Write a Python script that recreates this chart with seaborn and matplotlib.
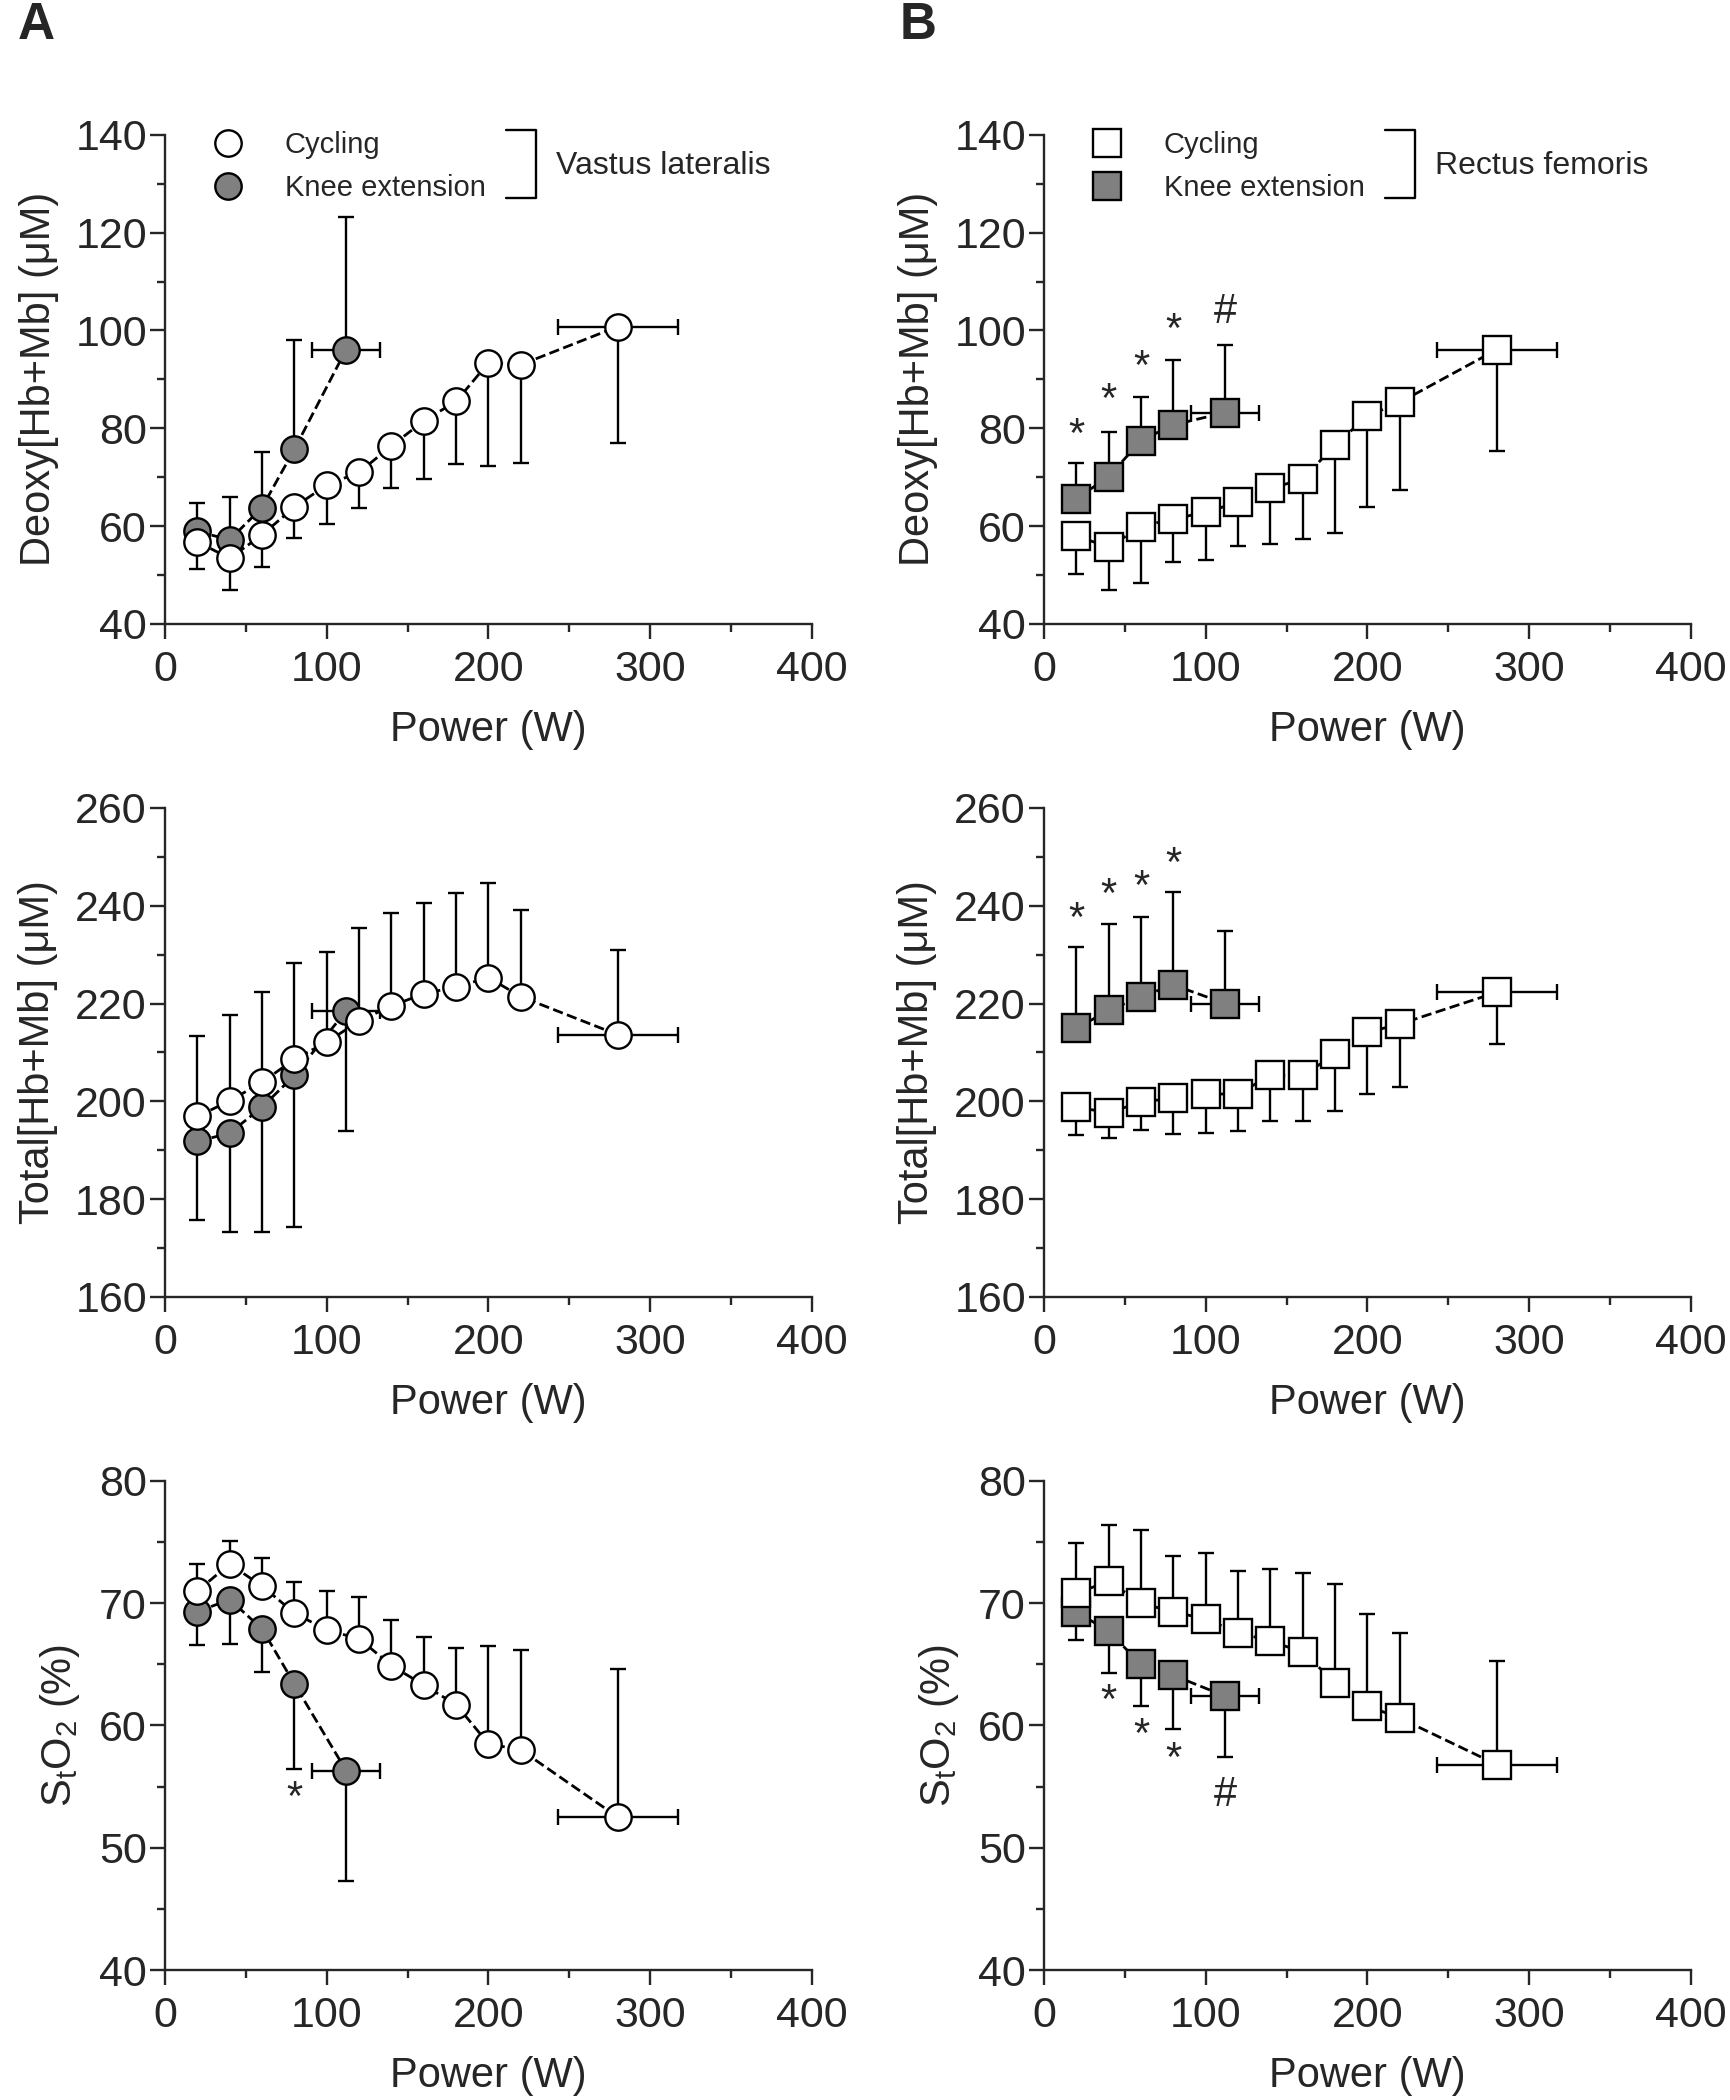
import numpy as np
import matplotlib
matplotlib.use("Agg")
import matplotlib.pyplot as plt
from matplotlib.lines import Line2D
from matplotlib.ticker import MultipleLocator
import seaborn as sns

sns.set_style("ticks")
plt.rcParams["font.family"] = ["Liberation Sans", "DejaVu Sans"]
plt.rcParams["mathtext.default"] = "regular"

GREY = "#808080"

# power levels
cyc_power = [20, 40, 60, 80, 100, 120, 140, 160, 180, 200, 220, 280]
knee_power = [20, 40, 60, 80, 112]
cyc_power_sd = [0, 0, 0, 0, 0, 0, 0, 0, 0, 0, 0, 37]
knee_power_sd = [0, 0, 0, 0, 21]

# A - vastus lateralis
vl_deoxy_cyc = [56.8, 53.4, 58.2, 63.9, 68.4, 71.0, 76.4, 81.5, 85.5, 93.4, 93.0, 100.8]
vl_deoxy_cyc_sd = [5.6, 6.5, 6.5, 6.4, 8.0, 7.4, 8.7, 11.8, 12.8, 21.1, 20.2, 23.8]
vl_deoxy_knee = [58.9, 57.2, 63.8, 75.7, 96.1]
vl_deoxy_knee_sd = [5.9, 8.8, 11.3, 22.4, 27.1]

vl_total_cyc = [196.9, 200.1, 203.9, 208.6, 212.1, 216.4, 219.5, 222.0, 223.4, 225.3, 221.4, 213.6]
vl_total_cyc_sd = [16.5, 17.5, 18.4, 19.6, 18.4, 19.0, 19.1, 18.5, 19.1, 19.4, 17.8, 17.3]
vl_total_knee = [191.8, 193.5, 198.8, 205.3, 218.5]
vl_total_knee_sd = [16.1, 20.2, 25.5, 30.9, 24.6]

vl_sto2_cyc = [71.0, 73.2, 71.4, 69.2, 67.8, 67.1, 64.9, 63.3, 61.7, 58.5, 58.0, 52.5]
vl_sto2_cyc_sd = [2.2, 1.9, 2.3, 2.5, 3.2, 3.4, 3.7, 3.9, 4.6, 8.0, 8.2, 12.1]
vl_sto2_knee = [69.3, 70.3, 67.9, 63.4, 56.3]
vl_sto2_knee_sd = [2.7, 3.6, 3.5, 7.0, 9.0]

# B - rectus femoris
rf_deoxy_cyc = [58.0, 55.7, 59.9, 61.5, 62.8, 64.9, 67.7, 69.6, 76.6, 82.5, 85.3, 96.1]
rf_deoxy_cyc_sd = [7.8, 8.7, 11.5, 8.8, 9.8, 8.9, 11.3, 12.2, 18.0, 18.6, 18.0, 20.8]
rf_deoxy_knee = [65.6, 70.1, 77.5, 80.7, 83.2]
rf_deoxy_knee_sd = [7.3, 9.1, 8.8, 13.3, 13.8]

rf_total_cyc = [198.8, 197.7, 199.8, 200.7, 201.5, 201.5, 205.3, 205.3, 209.6, 214.1, 215.8, 222.3]
rf_total_cyc_sd = [5.6, 5.2, 5.7, 7.3, 7.9, 7.6, 9.4, 9.4, 11.6, 12.6, 12.9, 10.6]
rf_total_knee = [214.9, 218.6, 221.4, 223.8, 220.0]
rf_total_knee_sd = [16.6, 17.7, 16.2, 19.0, 14.9]

rf_sto2_cyc = [70.8, 71.8, 70.0, 69.3, 68.7, 67.6, 66.9, 66.0, 63.5, 61.6, 60.6, 56.8]
rf_sto2_cyc_sd = [4.1, 4.6, 6.0, 4.6, 5.4, 5.0, 5.9, 6.5, 8.1, 7.5, 7.0, 8.5]
rf_sto2_knee = [69.3, 67.7, 65.0, 64.1, 62.4]
rf_sto2_knee_sd = [2.3, 3.4, 3.4, 4.4, 5.0]

# significance marks (symbol, power, y position)
rf_deoxy_sig = [("*", 20, 78.5), ("*", 40, 85.5), ("*", 60, 92.3), ("*", 80, 99.9), ("#", 112, 103.7)]
rf_total_sig = [("*", 20, 237.1), ("*", 40, 242.0), ("*", 60, 243.6), ("*", 80, 248.3)]
vl_sto2_sig = [("*", 80, 54.0)]
rf_sto2_sig = [("*", 40, 61.9), ("*", 60, 59.1), ("*", 80, 57.2), ("#", 112, 54.3)]

ylab_deoxy = "Deoxy[Hb+Mb] (\u03bcM)"
ylab_total = "Total[Hb+Mb] (\u03bcM)"
ylab_sto2 = r"$\mathregular{S_tO_2}$ (%)"


def one_side(sd, side):
    sd = np.asarray(sd, dtype=float)
    zero = np.zeros_like(sd)
    return [sd, zero] if side == "down" else [zero, sd]


def draw_panel(ax, marker, ms, cyc, cyc_sd, cyc_side, knee, knee_sd, knee_side,
               ylim, ystep, ylabel, sig=()):
    # knee extension first so the cycling markers sit on top
    for px, pxsd, y, sd, side, face in [
        (knee_power, knee_power_sd, knee, knee_sd, knee_side, GREY),
        (cyc_power, cyc_power_sd, cyc, cyc_sd, cyc_side, "white"),
    ]:
        ax.errorbar(px, y, yerr=one_side(sd, side), xerr=pxsd, fmt="none",
                    ecolor="black", elinewidth=1.7, capsize=6, capthick=1.7,
                    zorder=2, clip_on=False)
        sns.lineplot(x=px, y=y, ax=ax, color="black", linestyle="--", lw=2.0,
                     marker=marker, ms=ms, markerfacecolor=face,
                     markeredgecolor="black", markeredgewidth=1.7,
                     errorbar=None, zorder=3, clip_on=False)
    for sym, px, py in sig:
        ax.text(px, py, sym, ha="center", va="center", fontsize=30)

    ax.set_xlim(0, 400)
    ax.set_ylim(*ylim)
    ax.xaxis.set_major_locator(MultipleLocator(100))
    ax.xaxis.set_minor_locator(MultipleLocator(50))
    ax.yaxis.set_major_locator(MultipleLocator(ystep))
    ax.yaxis.set_minor_locator(MultipleLocator(ystep / 2))
    ax.tick_params(which="major", length=11, width=1.7, labelsize=31, direction="out")
    ax.tick_params(which="minor", length=6, width=1.7, direction="out")
    ax.tick_params(axis="x", pad=8)
    ax.tick_params(axis="y", pad=2)
    for s in ["left", "bottom"]:
        ax.spines[s].set_linewidth(1.7)
    sns.despine(ax=ax)
    ax.set_xlabel("Power (W)", fontsize=30, labelpad=14)
    ax.set_ylabel(ylabel, fontsize=30, labelpad=12)


def add_legend(ax, marker, ms, muscle):
    handles = [
        Line2D([], [], ls="none", marker=marker, ms=ms, mfc="white", mec="black", mew=1.7),
        Line2D([], [], ls="none", marker=marker, ms=ms, mfc=GREY, mec="black", mew=1.7),
    ]
    ax.legend(handles, ["Cycling", "Knee extension"], loc="center left",
              bbox_to_anchor=(0.075, 0.935), frameon=False, fontsize=21,
              handlelength=1.0, handletextpad=1.45, labelspacing=0.5,
              borderpad=0, borderaxespad=0)
    ax.plot([0.527, 0.573, 0.573, 0.527], [1.01, 1.01, 0.871, 0.871],
            transform=ax.transAxes, color="black", lw=1.7, clip_on=False)
    ax.text(0.604, 0.937, muscle, transform=ax.transAxes, fontsize=23,
            ha="left", va="center")


fig = plt.figure(figsize=(17.31, 21.0), dpi=100)
lefts = [0.0953, 0.6031]
bottoms = [0.7029, 0.3824, 0.0619]
w, h = 0.3738, 0.2329
axes = [[fig.add_axes([l, b, w, h]) for l in lefts] for b in bottoms]

draw_panel(axes[0][0], "o", 19, vl_deoxy_cyc, vl_deoxy_cyc_sd, "down",
           vl_deoxy_knee, vl_deoxy_knee_sd, "up", (40, 140), 20, ylab_deoxy)
draw_panel(axes[1][0], "o", 19, vl_total_cyc, vl_total_cyc_sd, "up",
           vl_total_knee, vl_total_knee_sd, "down", (160, 260), 20, ylab_total)
draw_panel(axes[2][0], "o", 19, vl_sto2_cyc, vl_sto2_cyc_sd, "up",
           vl_sto2_knee, vl_sto2_knee_sd, "down", (40, 80), 10, ylab_sto2, vl_sto2_sig)

draw_panel(axes[0][1], "s", 20, rf_deoxy_cyc, rf_deoxy_cyc_sd, "down",
           rf_deoxy_knee, rf_deoxy_knee_sd, "up", (40, 140), 20, ylab_deoxy, rf_deoxy_sig)
draw_panel(axes[1][1], "s", 20, rf_total_cyc, rf_total_cyc_sd, "down",
           rf_total_knee, rf_total_knee_sd, "up", (160, 260), 20, ylab_total, rf_total_sig)
draw_panel(axes[2][1], "s", 20, rf_sto2_cyc, rf_sto2_cyc_sd, "up",
           rf_sto2_knee, rf_sto2_knee_sd, "down", (40, 80), 10, ylab_sto2, rf_sto2_sig)

add_legend(axes[0][0], "o", 19, "Vastus lateralis")
add_legend(axes[0][1], "s", 20, "Rectus femoris")

fig.text(0.0104, 0.9995, "A", fontsize=37, fontweight="bold", va="top")
fig.text(0.5195, 0.9995, "B", fontsize=37, fontweight="bold", va="top")

fig.savefig("out.png", dpi=100)
